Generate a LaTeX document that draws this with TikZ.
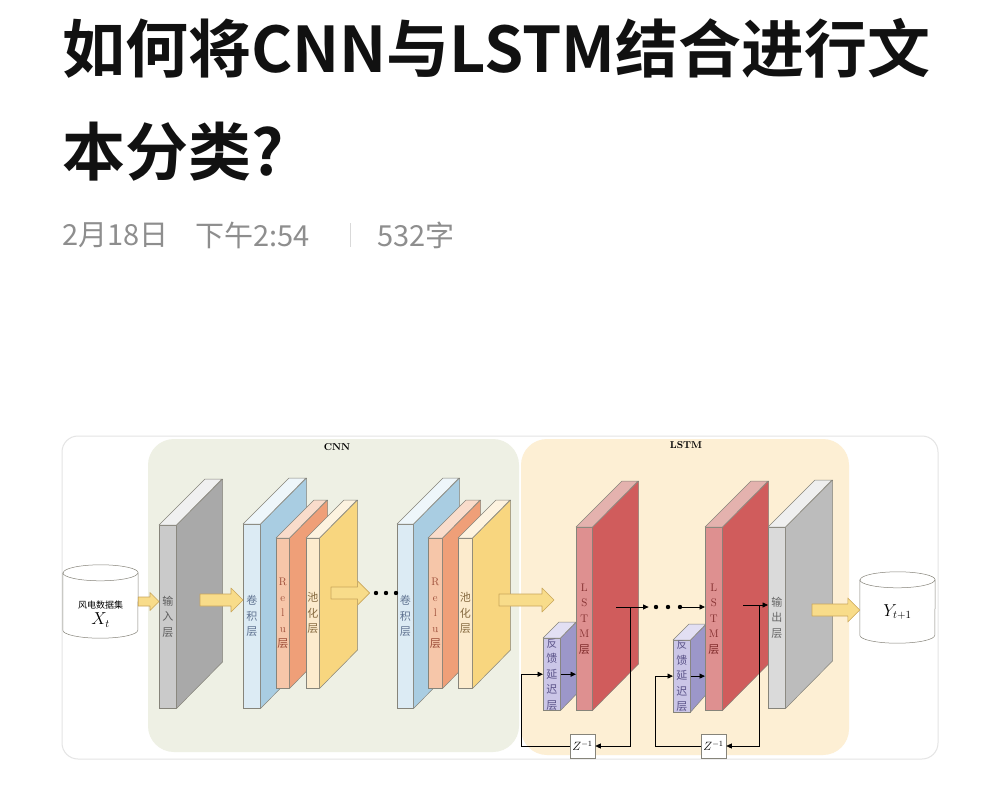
\documentclass[tikz,border=0pt]{standalone}
\usepackage{fontspec}
\newfontfamily\cjk{Noto Sans CJK SC}[BoldFont={Noto Sans CJK SC Bold}]
\usetikzlibrary{arrows.meta,calc}
\definecolor{titleInk}{HTML}{111111}
\definecolor{metaGrey}{HTML}{8E8E8E}
\definecolor{sepGrey}{HTML}{D9D9D9}
\definecolor{frameLine}{HTML}{E4E4E4}
\definecolor{cnnPanel}{HTML}{EEF0E4}
\definecolor{lstmPanel}{HTML}{FDEFD4}
\definecolor{slabEdge}{HTML}{86847A}
\definecolor{arrYel}{HTML}{F8DC8A}
\definecolor{arrEdge}{HTML}{C9A65A}
\definecolor{inpFront}{HTML}{CACACA}\definecolor{inpSide}{HTML}{A9A9A9}\definecolor{inpTop}{HTML}{F0F0F0}\definecolor{inpText}{HTML}{5E5E5E}
\definecolor{convFront}{HTML}{DCEBF4}\definecolor{convSide}{HTML}{A9CDE2}\definecolor{convTop}{HTML}{EEF6FA}\definecolor{convText}{HTML}{5F7290}
\definecolor{reluFront}{HTML}{F6C6A9}\definecolor{reluSide}{HTML}{EF9F78}\definecolor{reluTop}{HTML}{F9DCCB}\definecolor{reluText}{HTML}{9A4A35}
\definecolor{poolFront}{HTML}{FCEBCD}\definecolor{poolSide}{HTML}{F8D67F}\definecolor{poolTop}{HTML}{FDF3E0}\definecolor{poolText}{HTML}{866A40}
\definecolor{lstmFront}{HTML}{DE9090}\definecolor{lstmSide}{HTML}{D05C5C}\definecolor{lstmTop}{HTML}{E4B2AE}\definecolor{lstmText}{HTML}{7E2A2A}
\definecolor{fbFront}{HTML}{CBC6E7}\definecolor{fbSide}{HTML}{9C97C9}\definecolor{fbTop}{HTML}{E2DFF3}\definecolor{fbText}{HTML}{5A5288}
\definecolor{outFront}{HTML}{DADADA}\definecolor{outSide}{HTML}{BCBCBC}\definecolor{outTop}{HTML}{EFEFEF}\definecolor{outText}{HTML}{666666}
\tikzset{>={Triangle[length=5.5pt,width=5pt]},
  thinarr/.style={->,line width=0.8pt,draw=black},
  slabface/.style={draw=slabEdge,line width=0.5pt,anchor=north west,inner sep=0pt,align=center,
    font=\fontsize{11}{15.5}\selectfont\cjk},
  slabedge/.style={draw=slabEdge,line width=0.5pt,line join=round},
  fatbody/.style={fill=arrYel,draw=arrEdge,line width=0.6pt,line join=round},
  dotnode/.style={circle,fill=black,inner sep=0pt,minimum size=4.4pt},
  zbox/.style={draw=slabEdge,fill=white,line width=0.6pt,minimum width=25pt,minimum height=24pt,
    inner sep=0pt,font=\fontsize{12}{12}\selectfont},
  cylbox/.style={minimum width=75pt,inner sep=0pt},
  paneltitle/.style={font=\fontsize{10}{12}\selectfont\bfseries,text=black},
  titletxt/.style={anchor=west,inner sep=0pt,font=\fontsize{63}{70}\selectfont\cjk\bfseries,text=titleInk},
  metatxt/.style={anchor=west,inner sep=0pt,font=\fontsize{29}{32}\selectfont\cjk,text=metaGrey}}
% one 3-d layer: name, x, y, width, height, depth, colour set, label
\newcommand\slab[8]{%
  \node[slabface,fill=#7Front,text=#7Text,minimum width=#4pt,minimum height=#5pt] (#1) at (#2,#3) {#8};
  \filldraw[slabedge,fill=#7Side] (#1.north east) -- ++(#6,-#6) -- ++(0,#5) -- (#1.south east) -- cycle;
  \filldraw[slabedge,fill=#7Top] (#1.north west) -- ++(#6,-#6) -- ++(#4,0) -- (#1.north east) -- cycle;}
% data cylinder: name, centre, height
\newcommand\datacyl[3]{%
  \node[cylbox,minimum height=#3pt] (#1) at (#2) {};
  \filldraw[slabedge,fill=white] (#1.north west) -- (#1.south west)
    arc[start angle=180,end angle=360,x radius=37.5pt,y radius=8pt] -- (#1.north east)
    arc[start angle=0,end angle=180,x radius=37.5pt,y radius=8pt] -- cycle;
  \draw[slabedge] (#1.north west) arc[start angle=180,end angle=360,x radius=37.5pt,y radius=8pt];}
% fat yellow arrow: from, to, half body, half head
\newcommand\fatarr[4]{%
  \filldraw[fatbody] let \p1=(#1),\p2=(#2) in (\x1,\y1+#3) -- (\x2-#4,\y1+#3) -- (\x2-#4,\y1+#4)
    -- (\x2,\y1) -- (\x2-#4,\y1-#4) -- (\x2-#4,\y1-#3) -- (\x1,\y1-#3) -- cycle;}
\newcommand\vl[1]{\textrm{#1}}
\begin{document}
\begin{tikzpicture}[x=1pt,y=-1pt]
\useasboundingbox[fill=white] (0,0) rectangle (999,800);
\node[titletxt] (tline1) at (62,48) {如何将CNN与LSTM结合进行文};
\node[titletxt] (tline2) at (62,152) {本分类?};
\node[metatxt] (mdate) at (62,235) {2月18日};
\node[metatxt] (mtime) at (195,235) {下午2:54};
\draw[sepGrey,line width=1pt] (350,223) -- (350,247);
\node[metatxt] (mcount) at (377,235) {532字};
% frame and panels
\filldraw[draw=frameLine,fill=white,line width=1pt,rounded corners=16pt] (62,436) rectangle (938,759);
\fill[cnnPanel,rounded corners=26pt] (148,439) rectangle (519,752);
\fill[lstmPanel,rounded corners=26pt] (521,439) rectangle (849,755);
\node[paneltitle] (cnnlab) at (337,447) {CNN};
\node[paneltitle] (lstmlab) at (686,445) {LSTM};
% data
\datacyl{xdata}{100.5,601.5}{57}
\node[align=center,inner sep=0pt] (xtxt) at (100.5,614) {{\fontsize{9}{11}\selectfont\cjk 风电数据集}\\[3pt]{\fontsize{16}{16}\selectfont$X_t$}};
\datacyl{ydata}{897.5,607.5}{55}
\node[inner sep=0pt,font=\fontsize{16}{16}\selectfont] (ytxt) at (897.5,612) {$Y_{t+1}$};
% CNN layers
\slab{inp}{159}{525}{17}{183}{46}{inp}{输\\入\\层}
\slab{conv1}{243}{524}{17}{184}{46}{conv}{卷\\积\\层}
\slab{relu1}{276}{538}{13}{150}{38}{relu}{\vl{R}\\\vl{e}\\\vl{l}\\\vl{u}\\层}
\slab{pool1}{306}{538}{13}{150}{38}{pool}{池\\化\\层}
\slab{conv2}{397}{524}{16}{184}{46}{conv}{卷\\积\\层}
\slab{relu2}{428}{538}{14}{150}{38}{relu}{\vl{R}\\\vl{e}\\\vl{l}\\\vl{u}\\层}
\slab{pool2}{458}{538}{14}{150}{38}{pool}{池\\化\\层}
% LSTM layers
\slab{fb1}{543}{638}{17}{72}{16}{fb}{\fontsize{10.5}{14}\selectfont 反\\馈\\延\\迟\\层}
\slab{lstm1}{576}{527}{16}{183}{46}{lstm}{\vl{L}\\\vl{S}\\\vl{T}\\\vl{M}\\层}
\slab{fb2}{673}{640}{17}{70}{16}{fb}{\fontsize{10.5}{14}\selectfont 反\\馈\\延\\迟\\层}
\slab{lstm2}{705}{527}{17}{183}{46}{lstm}{\vl{L}\\\vl{S}\\\vl{T}\\\vl{M}\\层}
\slab{out}{768}{527}{17}{181}{47}{out}{输\\出\\层}
% dots
\node[dotnode] (d11) at (376,593) {};
\node[dotnode] (d12) at (386,593) {};
\node[dotnode] (d13) at (396,593) {};
\node[dotnode] (d21) at (656,607) {};
\node[dotnode] (d22) at (668,607) {};
\node[dotnode] (d23) at (680,607) {};
% fat arrows
\coordinate (a2) at (200,600);
\coordinate (a3) at (331,593);
\coordinate (a4) at (499,600);
\coordinate (a4e) at (554,600);
\coordinate (a5) at (812,610);
\fatarr{xdata.east}{inp.west |- xdata.east}{4.5pt}{9pt}
\fatarr{a2}{conv1.west |- a2}{6pt}{12pt}
\fatarr{a3}{[xshift=-4pt]d11.west}{6pt}{12pt}
\fatarr{a4}{a4e}{6pt}{12pt}
\fatarr{a5}{ydata.west |- a5}{6pt}{12pt}
% delay boxes and loops
\node[zbox] (z1) at (582.5,746) {$Z^{-1}$};
\node[zbox] (z2) at (713.5,746) {$Z^{-1}$};
\coordinate (l1o) at (616,607);
\coordinate (tap1) at (630,607);
\coordinate (l2o) at (743,605);
\coordinate (tap2) at (759,605);
\draw[thinarr] (l1o) -- ([xshift=-5pt]d21.west);
\draw[thinarr] (d23.east) -- (lstm2.west |- d23.east);
\draw[thinarr] (tap1) |- (z1.east);
\draw[thinarr] (z1.west) -| ([xshift=-22pt]fb1.west) -- (fb1.west);
\draw[thinarr] (fb1.east) -- (lstm1.west |- fb1.east);
\draw[thinarr] (l2o) -- (out.west |- l2o);
\draw[thinarr] (tap2) |- (z2.east);
\draw[thinarr] (z2.west) -| ([xshift=-18pt]fb2.west) -- (fb2.west);
\draw[thinarr] (fb2.east) -- (lstm2.west |- fb2.east);
\end{tikzpicture}
\end{document}
